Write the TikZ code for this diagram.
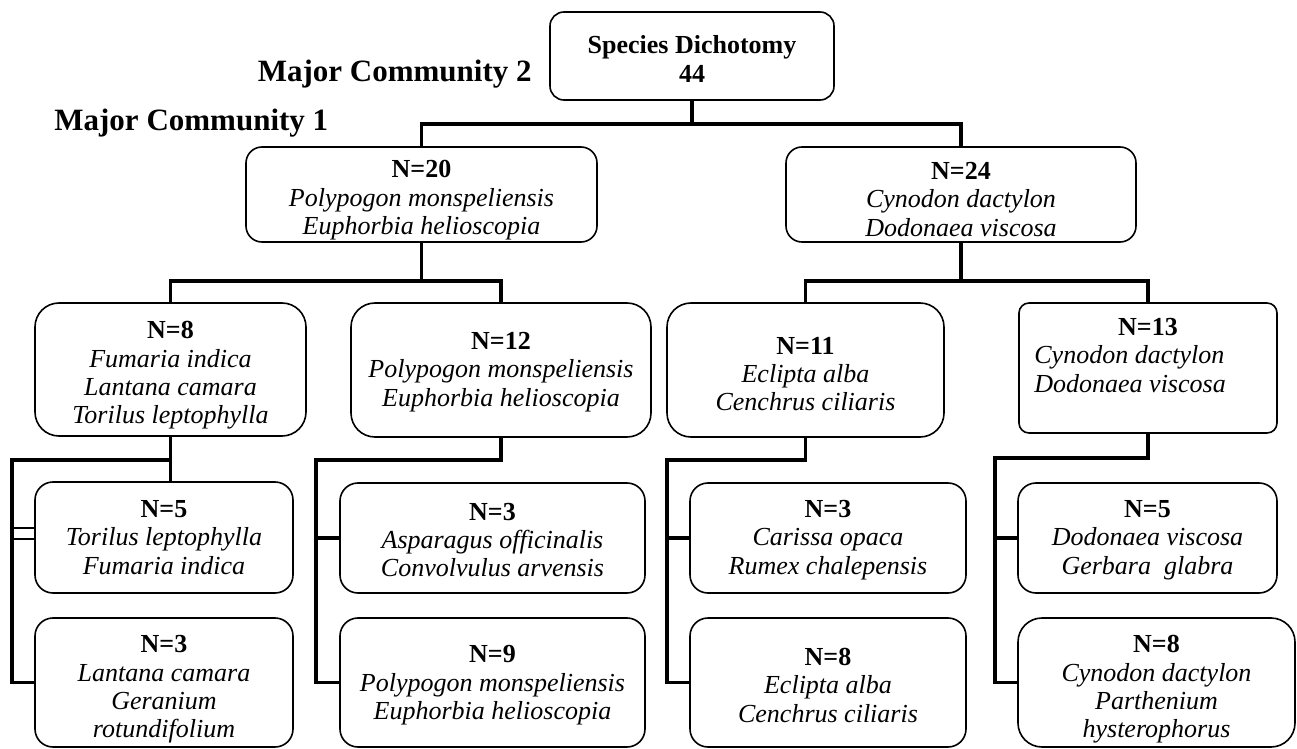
\documentclass[tikz,border=0pt]{standalone}
\usepackage{fontspec}
\setmainfont{Liberation Serif}
\usetikzlibrary{calc}
% #1 name, #2-#5 x1 y1 x2 y2 (px), #6 corner radius, #7 text shift down (px), #8 text
\newcommand{\boxnode}[8]{%
  \node[box, rounded corners=#6, minimum width={(#4-#2)*0.5pt}, minimum height={(#5-#3)*0.5pt}]
    (#1) at ({(#2+#4)/2},{(#3+#5)/2}) {};
  \node[txt, align=center] (#1t) at ({(#2+#4)/2},{(#3+#5)/2+#7}) {#8};}
\begin{document}
\begin{tikzpicture}[x=0.5pt,y=-0.5pt,
  box/.style={draw, line width=0.8pt, inner sep=0pt},
  txt/.style={inner sep=0pt, font=\fontsize{13}{14.2}\selectfont},
  mc/.style={inner sep=0pt, font=\bfseries\fontsize{15.5}{18}\selectfont},
  conn/.style={line width=1.8pt},
  thinconn/.style={line width=1pt}]
\useasboundingbox (0,0) rectangle (1297,749);

% boxes
\boxnode{root}{550}{12}{834}{100}{7pt}{3}{\textbf{Species Dichotomy}\\\textbf{44}}
\boxnode{n20}{246}{147}{597}{242}{8pt}{6}{\textbf{N=20}\\\textit{Polypogon monspeliensis}\\\textit{Euphorbia helioscopia}}
\boxnode{n24}{786}{147}{1136}{242}{8pt}{5}{\textbf{N=24}\\\textit{Cynodon dactylon}\\\textit{Dodonaea viscosa}}
\boxnode{n8}{35}{303}{306}{436}{12pt}{6}{\textbf{N=8}\\\textit{Fumaria indica}\\\textit{Lantana camara}\\\textit{Torilus leptophylla}}
\boxnode{n12}{351}{303}{651}{437}{12pt}{2}{\textbf{N=12}\\\textit{Polypogon monspeliensis}\\\textit{Euphorbia helioscopia}}
\boxnode{n11}{667}{303}{944}{437}{12pt}{4}{\textbf{N=11}\\\textit{Eclipta alba}\\\textit{Cenchrus ciliaris}}
\node[box, rounded corners=5pt, minimum width={(1277-1019)*0.5pt}, minimum height={(433-303)*0.5pt}] (n13) at ({(1019+1277)/2},{(303+433)/2}) {};
\node[txt] (n13h) at (1148,327) {\textbf{N=13}};
\node[txt, anchor=west, align=left] (n13t) at (1034,369) {\textit{Cynodon dactylon}\\\textit{Dodonaea viscosa}};

\boxnode{n5a}{35}{482}{293}{593}{9pt}{0}{\textbf{N=5}\\\textit{Torilus leptophylla}\\\textit{Fumaria indica}}
\boxnode{n3a}{35}{618}{293}{747}{9pt}{7}{\textbf{N=3}\\\textit{Lantana camara}\\\textit{Geranium}\\\textit{rotundifolium}}
\boxnode{n3b}{340}{483}{645}{593}{9pt}{2}{\textbf{N=3}\\\textit{Asparagus officinalis}\\\textit{Convolvulus arvensis}}
\boxnode{n9}{340}{618}{645}{747}{9pt}{3}{\textbf{N=9}\\\textit{Polypogon monspeliensis}\\\textit{Euphorbia helioscopia}}
\boxnode{n3c}{690}{483}{966}{593}{9pt}{2}{\textbf{N=3}\\\textit{Carissa opaca}\\\textit{Rumex chalepensis}}
\boxnode{n8c}{690}{618}{966}{747}{9pt}{3}{\textbf{N=8}\\\textit{Eclipta alba}\\\textit{Cenchrus ciliaris}}
\boxnode{n5d}{1018}{483}{1277}{593}{9pt}{2}{\textbf{N=5}\\\textit{Dodonaea viscosa}\\\textit{Gerbara\ \ glabra}}
\boxnode{n8d}{1018}{618}{1295}{747}{12pt}{7}{\textbf{N=8}\\\textit{Cynodon dactylon}\\\textit{Parthenium}\\\textit{hysterophorus}}

% titles
\node[mc, anchor=base east] (mc2) at (532,82) {Major Community 2};
\node[mc, anchor=base west] (mc1) at (54,131) {Major Community 1};

% junctions
\coordinate (j0) at (692,124);
\coordinate (j20) at (421.5,281);
\coordinate (j24) at (961,281);
\coordinate (k8) at (12,460);
\coordinate (k12) at (316,460);
\coordinate (k11) at (667,460);
\coordinate (k13) at (995,458);

% level 1
\draw[conn] (root.south) -- (j0);
\draw[conn] (n20.north) |- (j0) -| (n24.north);
% level 2
\draw[conn] (n20.south) -- (j20);
\draw[conn] (n8.north) |- (j20) -| (n12.north);
\draw[conn] (n24.south) -- (j24);
\draw[conn] (n11.north) |- (j24) -| (n13.north);
% level 3 left
\draw[conn] (n8.south) -- (n8.south |- n5a.north);
\draw[conn] (n8.south |- k8) -- (k8) -- (k8 |- n3a.west) -- (n3a.west);
\draw[thinconn] ($(k8 |- n5a.west)+(0,-10)$) -- ($(n5a.west)+(0,-10)$);
\draw[thinconn] ($(k8 |- n5a.west)+(0,1)$) -- ($(n5a.west)+(0,1)$);
% n12
\draw[conn] (n12.south) |- (k12) -- (k12 |- n9.west) -- (n9.west);
\draw[conn] (k12 |- n3b.west) -- (n3b.west);
% n11
\draw[conn] (n11.south) |- (k11) -- (k11 |- n8c.west) -- (n8c.west);
\draw[conn] (k11 |- n3c.west) -- (n3c.west);
% n13
\draw[conn] (n13.south) |- (k13) -- (k13 |- n8d.west) -- (n8d.west);
\draw[conn] (k13 |- n5d.west) -- (n5d.west);
\end{tikzpicture}
\end{document}
